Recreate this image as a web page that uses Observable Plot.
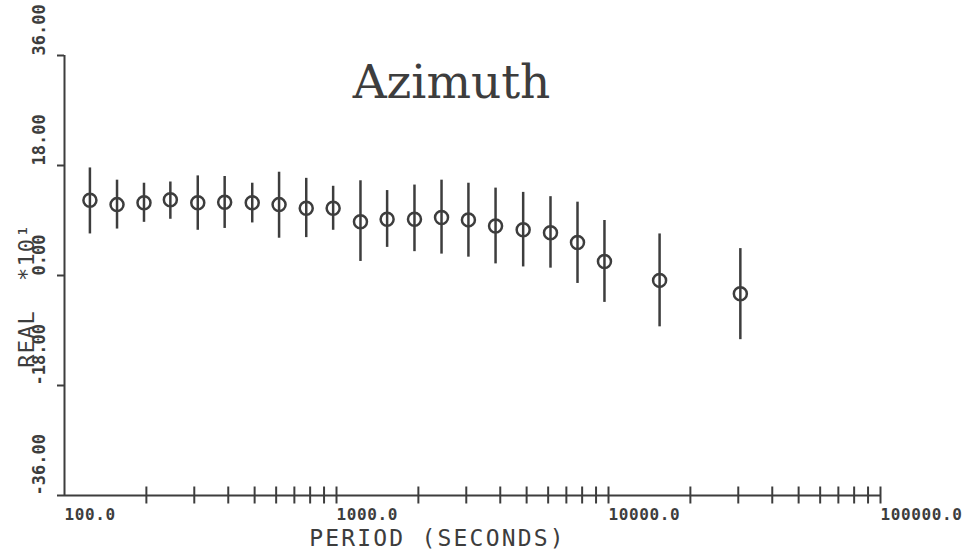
<!DOCTYPE html>
<html>
<head>
<meta charset="utf-8">
<script src="https://cdn.jsdelivr.net/npm/d3@7"></script>
<script src="https://cdn.jsdelivr.net/npm/@observablehq/plot@0.6"></script>
<style>
  body { margin: 0; background: #fff; }
  #chart svg { display: block; }
  #chart g[aria-label="x-axis tick label"] text { letter-spacing: 0.6px; }
  #chart g[aria-label="text"].x-title text { letter-spacing: 2.2px; }
  #chart g[aria-label="text"].y-title text { letter-spacing: 1.2px; }
</style>
</head>
<body>
<div id="chart"></div>
<script>
// Period (s) of each estimate
const periods = [124, 156, 196, 245, 309, 388, 490, 615, 774, 972,
                 1225, 1535, 1935, 2433, 3055, 3844, 4856, 6120, 7692, 9664,
                 15410, 30530];
// Real part (x10^1) and its error limits
const values = [12.3, 11.6, 11.9, 12.4, 11.9, 12.0, 11.9, 11.6, 11.0, 11.0,
                8.8, 9.2, 9.2, 9.5, 9.1, 8.1, 7.5, 7.0, 5.4, 2.3,
                -0.8, -3.0];
const upper = [17.6, 15.6, 15.1, 15.3, 16.3, 16.2, 15.1, 16.9, 15.9, 14.6,
               15.5, 13.9, 14.8, 15.6, 15.1, 14.3, 13.6, 12.9, 12.0, 9.0,
               6.8, 4.4];
const lower = [6.8, 7.6, 8.7, 9.2, 7.4, 7.7, 8.6, 6.1, 6.2, 7.4,
               2.3, 4.6, 3.9, 3.5, 3.0, 1.9, 1.4, 1.2, -1.3, -4.4,
               -8.4, -10.5];

// Axis ticks
const yTicks = [36, 18, 0, -18, -36];
const xDecades = [100, 1000, 10000, 100000];
const xMinor = [200, 300, 400, 500, 600, 700, 800, 900, 1000,
                2000, 3000, 4000, 5000, 6000, 7000, 8000, 9000, 10000,
                20000, 30000, 40000, 50000, 60000, 70000, 80000, 90000, 100000];

const title = "Azimuth";
const xTitle = "PERIOD (SECONDS)";
const yTitle = "REAL\u00a0\u00a0*10¹";

const rows = periods.map((p, i) => ({period: p, value: values[i], lo: lower[i], hi: upper[i]}));

const ink = "#3d3d3d";
const mono = "'DejaVu Sans Mono', monospace";

const chart = Plot.plot({
  width: 966,
  height: 555,
  marginLeft: 64,
  marginRight: 86,
  marginTop: 55,
  marginBottom: 60,
  style: {fontFamily: mono, color: ink, background: "#fff"},
  x: {type: "log", domain: [100, 100000], axis: null},
  y: {domain: [-36, 36], axis: null},
  marks: [
    // axis lines
    Plot.ruleY([-36], {stroke: ink, strokeWidth: 2}),
    Plot.ruleX([100], {stroke: ink, strokeWidth: 2}),
    // crossing tick marks on the period axis
    Plot.axisX({ticks: xMinor, tickSize: 17, dy: -8.5, fill: "none", label: null,
                stroke: ink, strokeWidth: 2}),
    // decade labels, left-aligned on their ticks
    Plot.axisX({ticks: xDecades, tickSize: 0, tickPadding: 13, label: null,
                tickFormat: d3.format(".1f"), textAnchor: "start", fontSize: 16,
                fontWeight: "bold", fill: ink}),
    // y ticks and rotated labels
    Plot.axisY({ticks: yTicks, tickSize: 7, label: null, fill: "none",
                stroke: ink, strokeWidth: 2}),
    Plot.text(yTicks, {y: d => d, text: d => d.toFixed(2), frameAnchor: "left",
                       dx: -25, rotate: -90, textAnchor: "start", lineAnchor: "middle",
                       fontSize: 17, fontWeight: "bold", fill: ink}),
    // error bars and estimates
    Plot.ruleX(rows, {x: "period", y1: "lo", y2: "hi", stroke: ink, strokeWidth: 2.5}),
    Plot.dot(rows, {x: "period", y: "value", r: 6.5, stroke: ink, strokeWidth: 2.5, fill: "none"}),
    // titles
    Plot.text([title], {frameAnchor: "top", dx: -21, dy: 42, lineAnchor: "bottom",
                        textAnchor: "middle", fontSize: 47,
                        fontFamily: "'DejaVu Serif', serif", fill: ink}),
    Plot.text([xTitle], {frameAnchor: "bottom", dx: -35, dy: 43, lineAnchor: "middle",
                         textAnchor: "middle", fontSize: 23, fill: ink, className: "x-title"}),
    Plot.text([yTitle], {frameAnchor: "left", dx: -38, dy: 20, rotate: -90,
                         textAnchor: "middle", lineAnchor: "middle", fontSize: 22, fill: ink,
                         className: "y-title"})
  ]
});

document.getElementById("chart").append(chart);
</script>
</body>
</html>
